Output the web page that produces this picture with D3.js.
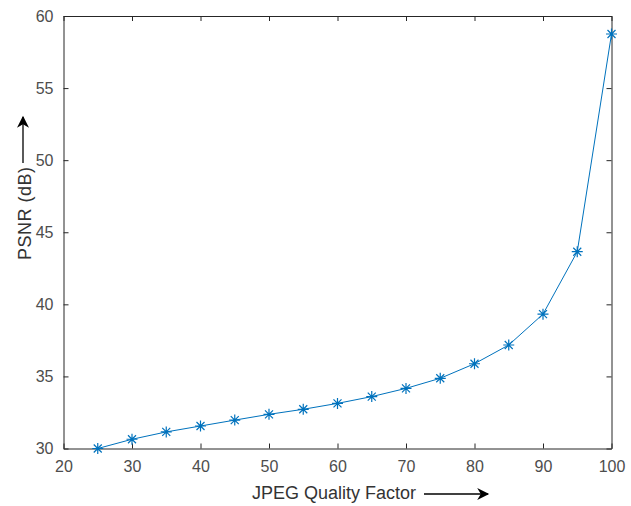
<!DOCTYPE html>
<html>
<head>
<meta charset="utf-8">
<script src="https://cdn.jsdelivr.net/npm/d3@7"></script>
<style>
  body { margin: 0; background: #fff; }
  text { font-family: "Liberation Sans", Arial, sans-serif; }
</style>
</head>
<body>
<div id="chart-area"></div>
<script>
// data
let quality = [25, 30, 35, 40, 45, 50, 55, 60, 65, 70, 75, 80, 85, 90, 95, 100];
let psnr = [30.0, 30.64, 31.15, 31.56, 31.97, 32.37, 32.72, 33.13, 33.6, 34.17, 34.87, 35.88, 37.18, 39.32, 43.65, 58.75];
let xTicks = [20, 30, 40, 50, 60, 70, 80, 90, 100];
let yTicks = [30, 35, 40, 45, 50, 55, 60];

let W = 631, H = 506;
let margin = {top: 16, right: 19.5, bottom: 57.5, left: 63.5};
let width = W - margin.left - margin.right;
let height = H - margin.top - margin.bottom;

let svg = d3.select("#chart-area").append("svg")
  .attr("width", W)
  .attr("height", H);

let g = svg.append("g")
  .attr("transform", "translate(" + margin.left + "," + margin.top + ")");

let x = d3.scaleLinear().domain([20, 100]).range([0, width]);
let y = d3.scaleLinear().domain([30, 60]).range([height, 0]);

let axisColor = "#262626";
let labelColor = "#4d4d4d";

// axes (ticks inward, MATLAB-like box)
let xAxis = d3.axisBottom(x).tickValues(xTicks).tickSizeInner(-5).tickSizeOuter(0).tickPadding(12);
let yAxis = d3.axisLeft(y).tickValues(yTicks).tickSizeInner(-5).tickSizeOuter(0).tickPadding(12);
let xTop = d3.axisTop(x).tickValues(xTicks).tickSizeInner(-5).tickSizeOuter(0).tickFormat("");
let yRight = d3.axisRight(y).tickValues(yTicks).tickSizeInner(-5).tickSizeOuter(0).tickFormat("");

g.append("g").attr("class", "x-axis").attr("transform", "translate(0," + height + ")").call(xAxis);
g.append("g").attr("class", "y-axis").call(yAxis);
g.append("g").attr("class", "x-top").call(xTop);
g.append("g").attr("class", "y-right").attr("transform", "translate(" + width + ",0)").call(yRight);

g.selectAll(".domain").attr("stroke", axisColor);
g.selectAll(".tick line").attr("stroke", axisColor);
g.selectAll(".tick text")
  .attr("fill", labelColor)
  .style("font-size", "16px");
g.select(".y-axis").selectAll(".tick text").attr("dx", "2");

// line + asterisk markers
let pts = quality.map((q, i) => ({q: q, v: psnr[i]}));
let blue = "#0072BD";

g.append("path")
  .datum(pts)
  .attr("fill", "none")
  .attr("stroke", blue)
  .attr("stroke-width", 1)
  .attr("d", d3.line().x(d => x(d.q)).y(d => y(d.v)));

let r = 5.5, rd = 4;
let star = "M0," + (-r) + "V" + r + "M" + (-r) + ",0H" + r +
  "M" + (-rd) + "," + (-rd) + "L" + rd + "," + rd +
  "M" + (-rd) + "," + rd + "L" + rd + "," + (-rd);

g.selectAll(".marker")
  .data(pts)
  .enter().append("path")
  .attr("class", "marker")
  .attr("transform", d => "translate(" + x(d.q) + "," + y(d.v) + ")")
  .attr("d", star)
  .attr("fill", "none")
  .attr("stroke", blue)
  .attr("stroke-width", 1.2);

// axis titles with arrows
svg.append("defs").append("marker")
  .attr("id", "arrow")
  .attr("viewBox", "0 0 10 10")
  .attr("refX", 9).attr("refY", 5)
  .attr("markerWidth", 16).attr("markerHeight", 12)
  .attr("markerUnits", "userSpaceOnUse")
  .attr("orient", "auto")
  .append("path")
  .attr("d", "M0,0 L10,5 L0,10 L3,5 Z")
  .attr("fill", "#000");

svg.append("text")
  .attr("x", 252).attr("y", 499)
  .attr("fill", "#333")
  .style("font-size", "18px")
  .text("JPEG Quality Factor");

svg.append("line")
  .attr("x1", 424).attr("y1", 494)
  .attr("x2", 488).attr("y2", 494)
  .attr("stroke", "#000").attr("stroke-width", 1.3)
  .attr("marker-end", "url(#arrow)");

svg.append("text")
  .attr("transform", "translate(31,260) rotate(-90)")
  .attr("fill", "#333")
  .style("font-size", "18px")
  .style("letter-spacing", "0.5px")
  .text("PSNR (dB)");

svg.append("line")
  .attr("x1", 23).attr("y1", 163)
  .attr("x2", 23).attr("y2", 117)
  .attr("stroke", "#000").attr("stroke-width", 1.3)
  .attr("marker-end", "url(#arrow)");
</script>
</body>
</html>
